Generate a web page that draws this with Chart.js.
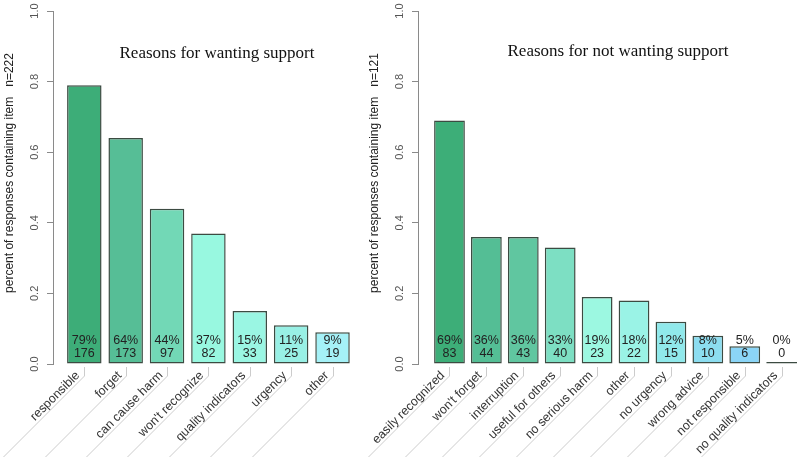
<!DOCTYPE html>
<html><head><meta charset="utf-8">
<script src="https://cdn.jsdelivr.net/npm/chart.js@4.4.0/dist/chart.umd.min.js"></script>
<style>
html,body{margin:0;padding:0;background:#fff;width:799px;height:457px;overflow:hidden;}
#c1{position:absolute;left:0;top:0;}
#c2{position:absolute;left:360px;top:0;}
</style></head><body>
<canvas id="c1" width="360" height="457"></canvas>
<canvas id="c2" width="439" height="457"></canvas>
<script>
// ---- data ----
const wantCategories = ['responsible', 'forget', 'can cause harm', "won't recognize", 'quality indicators', 'urgency', 'other'];
const wantShares = [0.79, 0.64, 0.44, 0.37, 0.15, 0.11, 0.09];
const wantCounts = [176, 173, 97, 82, 33, 25, 19];

const notCategories = ['easily recognized', "won't forget", 'interruption', 'useful for others', 'no serious harm', 'other', 'no urgency', 'wrong advice', 'not responsible', 'no quality indicators'];
const notShares = [0.69, 0.36, 0.36, 0.33, 0.19, 0.18, 0.12, 0.08, 0.05, 0.0];
const notCounts = [83, 44, 43, 40, 23, 22, 15, 10, 6, 0];

const yTickValues = [0, 0.2, 0.4, 0.6, 0.8, 1.0];
const yTickLabels = ['0.0', '0.2', '0.4', '0.6', '0.8', '1.0'];

// ---- styles ----
const wantColors = ['#3DAD78', '#56BE96', '#72D8B6', '#98F8E0', '#9AF6E3', '#98F0E5', '#A5F1F7'];
const notColors = ['#3DAE78', '#54BE95', '#60C6A0', '#7DDFC3', '#9CF8E1', '#9AF3E6', '#90E9EB', '#8CDDF0', '#8BD5F7', '#555555'];
const SANS = '"Liberation Sans", Arial, sans-serif';
const SERIF = '"Liberation Serif", "Times New Roman", serif';

function panel(canvasId, p) {
  const decor = {
    id: 'rDecor',
    afterDraw(chart) {
      const ctx = chart.ctx, xs = chart.scales.x, ys = chart.scales.y, area = chart.chartArea;
      const y0 = ys.getPixelForValue(0);
      ctx.save();
      // y tick labels (rotated, R style)
      ctx.fillStyle = '#555';
      ctx.font = '11px ' + SANS;
      ctx.textAlign = 'center'; ctx.textBaseline = 'middle';
      yTickValues.forEach((v, i) => {
        const py = ys.getPixelForValue(v);
        ctx.save(); ctx.translate(area.left - 18, py); ctx.rotate(-Math.PI / 2);
        ctx.fillText(yTickLabels[i], 0, 0); ctx.restore();
      });
      // y axis title
      ctx.fillStyle = '#222';
      ctx.font = '12px ' + SANS;
      ctx.save(); ctx.translate(area.left - 43, 173); ctx.rotate(-Math.PI / 2);
      ctx.fillText(p.yTitle, 0, 0); ctx.restore();
      // panel title
      ctx.fillStyle = '#111';
      ctx.font = '17px ' + SERIF;
      ctx.fillText(p.title, p.titleX, p.titleY);
      // category labels with leader lines
      ctx.strokeStyle = '#cccccc'; ctx.lineWidth = 1;
      ctx.fillStyle = '#333';
      ctx.font = '12.5px ' + SANS;
      const bend = y0 + 12, bottom = 458;
      p.categories.forEach((c, i) => {
        const cx = Math.round(xs.getPixelForValue(i)) + 0.5;
        ctx.beginPath();
        ctx.moveTo(cx, y0 + 3); ctx.lineTo(cx, bend);
        ctx.lineTo(cx - (bottom - bend), bottom);
        ctx.stroke();
        ctx.save(); ctx.translate(cx, bend); ctx.rotate(-Math.PI / 4);
        ctx.textAlign = 'right'; ctx.textBaseline = 'alphabetic';
        ctx.fillText(c, -3, -3); ctx.restore();
      });
      // value labels inside bars
      ctx.fillStyle = '#222';
      ctx.font = '12.5px ' + SANS;
      ctx.textAlign = 'center'; ctx.textBaseline = 'middle';
      const meta = chart.getDatasetMeta(0);
      meta.data.forEach((bar, i) => {
        ctx.fillText(Math.round(p.shares[i] * 100) + '%', bar.x, y0 - 23.5);
        ctx.fillText(String(p.counts[i]), bar.x, y0 - 10);
      });
      ctx.restore();
    }
  };
  return new Chart(document.getElementById(canvasId), {
    type: 'bar',
    data: {
      datasets: [{
        data: p.shares.map((v, i) => ({ x: i, y: v })),
        backgroundColor: p.colors,
        borderColor: '#3c4b42',
        borderWidth: 1.5,
        borderSkipped: false,
        minBarLength: 2,
        categoryPercentage: 1,
        barPercentage: 1 / 1.2
      }]
    },
    options: {
      responsive: false,
      devicePixelRatio: 1,
      animation: false,
      events: [],
      layout: { padding: { left: 0, right: p.padRight, top: 11, bottom: 93 } },
      plugins: { legend: { display: false }, tooltip: { enabled: false }, title: { display: false } },
      scales: {
        x: { type: 'linear', display: false, offset: false, min: p.xMin, max: p.xMax },
        y: {
          type: 'linear', min: 0, max: 1,
          border: { display: true, color: '#8a8a8a', width: 1 },
          grid: { display: true, drawOnChartArea: false, drawTicks: true, tickLength: 6, color: '#8a8a8a', tickColor: '#8a8a8a' },
          ticks: { display: false, stepSize: 0.2 },
          afterFit(scale) { scale.width = p.axisWidth; }
        }
      }
    },
    plugins: [decor]
  });
}

panel('c1', {
  categories: wantCategories, shares: wantShares, counts: wantCounts, colors: wantColors,
  title: 'Reasons for wanting support', titleX: 217, titleY: 54,
  yTitle: 'percent of responses containing item   n=222',
  axisWidth: 53, padRight: 7.5, xMin: -0.757, xMax: 6.483
});
panel('c2', {
  categories: notCategories, shares: notShares, counts: notCounts, colors: notColors,
  title: 'Reasons for not wanting support', titleX: 258, titleY: 52,
  yTitle: 'percent of responses containing item   n=121',
  axisWidth: 58, padRight: 0, xMin: -0.853, xMax: 9.47
});
</script>
</body></html>
